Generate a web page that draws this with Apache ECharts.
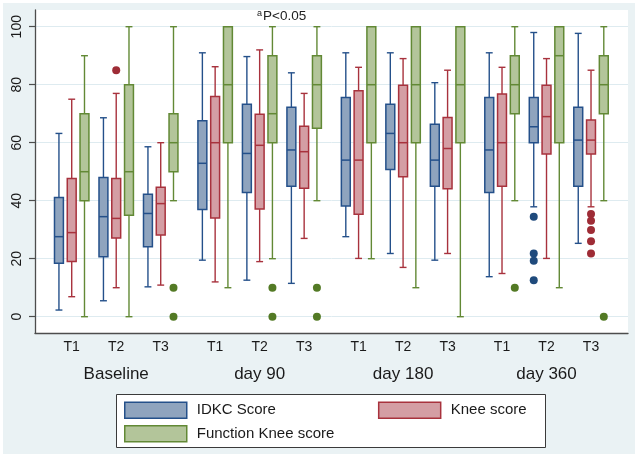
<!DOCTYPE html>
<html>
<head>
<meta charset="utf-8">
<script src="https://cdn.jsdelivr.net/npm/echarts@6/dist/echarts.min.js"></script>
<style>html,body{margin:0;padding:0;background:#fff}#c{width:640px;height:458px}</style>
</head>
<body>
<div id="c"></div>
<script>
// ---- data ----
const timepoints = ['Baseline', 'day 90', 'day 180', 'day 360'];
const tLevels = ['T1', 'T2', 'T3'];
const yTicks = [0, 20, 40, 60, 80, 100];
// each: [lowWhisker, Q1, median, Q3, highWhisker], one per (timepoint, T)
const idkcBox = [
  [2.3, 18.4, 27.6, 41.1, 63.2], [5.5, 20.7, 34.5, 48, 68.6], [10.3, 24.1, 35.6, 42.2, 58.6],
  [19.5, 37, 52.9, 67.6, 91], [12.6, 42.8, 56.3, 73.3, 89.7], [11.5, 45, 57.5, 72.2, 84.1],
  [27.6, 38.2, 54, 75.6, 91], [21.8, 50.8, 63.2, 73.3, 91], [19.5, 45, 54, 66.4, 80.7],
  [13.8, 42.8, 57.5, 75.6, 91], [37.9, 60, 65.5, 75.6, 98], [25.3, 45, 60.9, 72.2, 97.7]
];
const kneeBox = [
  [6.9, 19, 29, 47.7, 75], [10, 27.1, 33.9, 47.7, 77], [10.9, 28.2, 39, 44.6, 60],
  [12, 34, 60, 75.9, 86.2], [19, 37.1, 59.1, 69.8, 92], [27, 44.3, 56.9, 65.7, 77],
  [20.1, 35.3, 54, 77.9, 86], [17, 48.3, 60, 79.8, 89], [21.8, 44.1, 58, 68.7, 85],
  [14.9, 45, 60, 76.8, 86], [20.1, 56.1, 69, 79.8, 89], [37.9, 56.1, 60.9, 67.8, 85]
];
const funcKneeBox = [
  [0, 40, 50, 70, 90], [0, 35, 50, 80, 100], [40, 50, 60, 70, 100],
  [10, 60, 80, 100, 100], [20, 60, 70, 90, 100], [40, 65, 80, 90, 100],
  [20, 60, 80, 100, 100], [10, 60, 80, 100, 100], [0, 60, 80, 100, 100],
  [40, 70, 80, 90, 100], [10, 60, 90, 100, 100], [40, 70, 80, 90, 100]
];
// outliers: [groupIndex, value]
const idkcOut = [[10, 34.5], [10, 21.8], [10, 19.3], [10, 12.6]];
const kneeOut = [[1, 85], [11, 35.4], [11, 33.1], [11, 29.9], [11, 26], [11, 21.8]];
const funcKneeOut = [[2, 10], [2, 0], [4, 10], [4, 0], [5, 10], [5, 0], [9, 10], [11, 0]];

// ---- layout helpers ----
const GAP = 0.223, OFF = 0.287, BOX_W = 0.2, CAP_W = 0.155;
const groupPos = k => k + Math.floor(k / 3) * GAP;
const groupCount = tLevels.length * timepoints.length;
const tPositions = Array.from({length: groupCount}, (_, k) => groupPos(k));
const tpPositions = timepoints.map((_, i) => groupPos(i * 3 + 1));
const FONT = "'Liberation Sans', Arial, Helvetica, sans-serif";

const styles = [
  {name: 'IDKC Score', fill: '#8fa4be', stroke: '#24508a', dot: '#1f4a7c', box: idkcBox, out: idkcOut, off: -OFF},
  {name: 'Knee score', fill: '#d49ea4', stroke: '#a8323d', dot: '#9e2c36', box: kneeBox, out: kneeOut, off: 0},
  {name: 'Function Knee score', fill: '#b3c59a', stroke: '#628935', dot: '#537a25', box: funcKneeBox, out: funcKneeOut, off: OFF}
];

function renderBox(params, api) {
  const x = api.value(0);
  const lo = api.coord([x, api.value(1)]);
  const q1 = api.coord([x, api.value(2)]);
  const md = api.coord([x, api.value(3)]);
  const q3 = api.coord([x, api.value(4)]);
  const hi = api.coord([x, api.value(5)]);
  const bw = api.size([BOX_W, 0])[0];
  const cw = api.size([CAP_W, 0])[0];
  const st = styles[params.seriesIndex];
  const ls = {stroke: st.stroke, lineWidth: 1.4, fill: null};
  const cx = lo[0];
  return {
    type: 'group',
    children: [
      {type: 'line', shape: {x1: cx, y1: hi[1], x2: cx, y2: q3[1]}, style: ls},
      {type: 'line', shape: {x1: cx, y1: q1[1], x2: cx, y2: lo[1]}, style: ls},
      {type: 'line', shape: {x1: cx - cw / 2, y1: hi[1], x2: cx + cw / 2, y2: hi[1]}, style: ls},
      {type: 'line', shape: {x1: cx - cw / 2, y1: lo[1], x2: cx + cw / 2, y2: lo[1]}, style: ls},
      {type: 'rect', shape: {x: cx - bw / 2, y: q3[1], width: bw, height: q1[1] - q3[1]},
        style: {fill: st.fill, stroke: st.stroke, lineWidth: 1.5}},
      {type: 'line', shape: {x1: cx - bw / 2, y1: md[1], x2: cx + bw / 2, y2: md[1]},
        style: {stroke: st.stroke, lineWidth: 1.5}}
    ]
  };
}

const series = [];
styles.forEach(st => {
  series.push({
    name: st.name, type: 'custom', renderItem: renderBox,
    itemStyle: {color: st.fill, borderColor: st.stroke},
    encode: {x: 0, y: [1, 2, 3, 4, 5]},
    data: st.box.map((b, k) => [groupPos(k) + st.off, ...b]), z: 2
  });
});
styles.forEach(st => {
  series.push({
    name: st.name + ' outliers', type: 'scatter', symbolSize: 8,
    itemStyle: {color: st.dot, opacity: 1}, z: 3, clip: false,
    data: st.out.map(o => [groupPos(o[0]) + st.off, o[1]])
  });
});

const labelFmt = (arr, names) => v => {
  const i = arr.findIndex(p => Math.abs(p - v) < 1e-6);
  return i < 0 ? '' : names[i % names.length];
};

const legendItem = st => ({name: st.name, icon: 'rect',
  itemStyle: {color: st.fill, borderColor: st.stroke, borderWidth: 1.5}});

const option = {
  backgroundColor: '#ffffff',
  animation: false,
  textStyle: {fontFamily: FONT},
  graphic: [
    {type: 'rect', z: -10, shape: {x: 3, y: 3, width: 632, height: 451}, style: {fill: '#eaf2f4'}, silent: true},
    {type: 'rect', z: -9, shape: {x: 35, y: 10, width: 593, height: 323}, style: {fill: '#ffffff'}, silent: true},
    {type: 'rect', z: 1, shape: {x: 116.5, y: 394.5, width: 429, height: 53}, style: {fill: '#ffffff', stroke: '#3a3a3a', lineWidth: 1}, silent: true}
  ],
  title: {
    text: '{sup|a}{m|P<0.05}', left: 257, top: 9, padding: 0,
    textStyle: {fontWeight: 'normal', rich: {
      sup: {fontSize: 9, fontFamily: FONT, fontWeight: 'normal', color: '#222', verticalAlign: 'top', padding: [0, 1, 6, 0]},
      m: {fontSize: 13.5, fontFamily: FONT, fontWeight: 'normal', color: '#222'}
    }}
  },
  grid: {left: 35, right: 12, top: 10, bottom: 124.7, containLabel: false},
  xAxis: [
    {type: 'value', min: -0.825, max: 12.5, position: 'bottom',
      axisLine: {show: true, onZero: false, lineStyle: {color: '#4d4d4d', width: 1.3}},
      axisTick: {show: false},
      splitLine: {show: false},
      axisLabel: {customValues: tPositions, formatter: labelFmt(tPositions, tLevels),
        margin: 7, fontSize: 14, color: '#1a1a1a', fontFamily: FONT}},
    {type: 'value', min: -0.825, max: 12.5, position: 'bottom',
      axisLine: {show: false, onZero: false}, axisTick: {show: false}, splitLine: {show: false},
      axisLabel: {customValues: tpPositions, formatter: labelFmt(tpPositions, timepoints),
        margin: 33, fontSize: 17, color: '#1a1a1a', fontFamily: FONT}}
  ],
  yAxis: {
    type: 'value', min: -5.72, max: 105.76, position: 'left',
    axisLine: {show: true, onZero: false, lineStyle: {color: '#4d4d4d', width: 1.3}},
    axisTick: {show: true, customValues: yTicks, length: 6, lineStyle: {color: '#4d4d4d', width: 1.2}},
    axisLabel: {customValues: yTicks, rotate: 90, margin: 11, fontSize: 14, color: '#1a1a1a', fontFamily: FONT},
    splitLine: {show: true, lineStyle: {color: '#deebf0', width: 1}}
  },
  legend: [
    {left: 124, top: 401.5, itemWidth: 62, itemHeight: 16, itemGap: 102, padding: 0,
      textStyle: {fontSize: 15, color: '#1a1a1a', fontFamily: FONT, padding: [0, 0, 0, 5]},
      data: [legendItem(styles[0]), legendItem(styles[1])], selectedMode: false, z: 5},
    {left: 124, top: 425, itemWidth: 62, itemHeight: 16, padding: 0,
      textStyle: {fontSize: 15, color: '#1a1a1a', fontFamily: FONT, padding: [0, 0, 0, 5]},
      data: [legendItem(styles[2])], selectedMode: false, z: 5}
  ],
  series: series.map(s => Object.assign(s, {xAxisIndex: 0}))
};

const chart = echarts.init(document.getElementById('c'), null, {renderer: 'canvas'});
chart.setOption(option);
</script>
</body>
</html>
